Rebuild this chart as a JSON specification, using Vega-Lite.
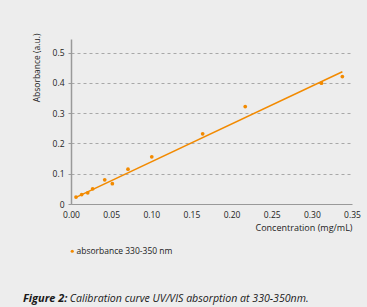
{
  "$schema": "https://vega.github.io/schema/vega-lite/v6.json",
  "width": 281,
  "height": 165,
  "autosize": {"type": "none"},
  "padding": {"left": 71, "top": 39, "right": 15, "bottom": 103},
  "background": "#ededed",
  "datasets": {
    "points": [
      {"conc": 0.0062, "abs": 0.023, "series": "absorbance 330-350 nm"},
      {"conc": 0.0133, "abs": 0.031, "series": "absorbance 330-350 nm"},
      {"conc": 0.0208, "abs": 0.037, "series": "absorbance 330-350 nm"},
      {"conc": 0.027, "abs": 0.05, "series": "absorbance 330-350 nm"},
      {"conc": 0.042, "abs": 0.08, "series": "absorbance 330-350 nm"},
      {"conc": 0.0515, "abs": 0.067, "series": "absorbance 330-350 nm"},
      {"conc": 0.071, "abs": 0.115, "series": "absorbance 330-350 nm"},
      {"conc": 0.1006, "abs": 0.156, "series": "absorbance 330-350 nm"},
      {"conc": 0.164, "abs": 0.232, "series": "absorbance 330-350 nm"},
      {"conc": 0.217, "abs": 0.322, "series": "absorbance 330-350 nm"},
      {"conc": 0.312, "abs": 0.399, "series": "absorbance 330-350 nm"},
      {"conc": 0.338, "abs": 0.421, "series": "absorbance 330-350 nm"}
    ],
    "fit": [
      {"conc": 0.0055, "abs": 0.021},
      {"conc": 0.338, "abs": 0.437}
    ]
  },
  "title": {
    "text": "Figure 2:",
    "subtitle": "\u200b\u00a0\u00a0\u00a0\u00a0\u00a0\u00a0\u00a0\u00a0\u00a0\u00a0\u00a0\u00a0\u00a0\u00a0\u00a0\u00a0\u00a0Calibration curve UV/VIS absorption at 330-350nm.",
    "orient": "bottom",
    "anchor": "start",
    "frame": "group",
    "dx": -48,
    "offset": 37,
    "font": "Open Sans",
    "fontSize": 11,
    "fontStyle": "italic",
    "fontWeight": "bold",
    "color": "#1a1a1a",
    "subtitleFont": "Open Sans",
    "subtitleFontSize": 10.6,
    "subtitleFontStyle": "italic",
    "subtitleFontWeight": "normal",
    "subtitleColor": "#1a1a1a",
    "subtitlePadding": -10
  },
  "config": {
    "view": {"stroke": null},
    "font": "Open Sans"
  },
  "encoding": {
    "x": {
      "field": "conc", "type": "quantitative",
      "scale": {"domain": [0, 0.35], "nice": false, "zero": false},
      "axis": {
        "values": [0, 0.05, 0.1, 0.15, 0.2, 0.25, 0.3, 0.35],
        "format": ".2f",
        "labelFlush": false,
        "labelOverlap": false,
        "title": "Concentration (mg/mL)",
        "titleAnchor": "end",
        "titleAlign": "right",
        "titleFont": "Open Sans",
        "titleFontSize": 9,
        "titleFontWeight": "normal",
        "titleColor": "#222222",
        "titlePadding": 5,
        "labelFont": "Open Sans",
        "labelFontSize": 8.5,
        "labelColor": "#222222",
        "labelPadding": 6,
        "ticks": false,
        "grid": false,
        "domainColor": "#999999",
        "domainWidth": 1
      }
    },
    "y": {
      "field": "abs", "type": "quantitative",
      "scale": {"domain": [0, 0.545], "nice": false},
      "axis": {
        "values": [0, 0.1, 0.2, 0.3, 0.4, 0.5],
        "labelExpr": "datum.value == 0 ? '0' : format(datum.value, '.1f')",
        "labelFlush": false,
        "labelOverlap": false,
        "title": "Absorbance (a.u.)",
        "titleAnchor": "end",
        "titleAlign": "right",
        "titleY": -6,
        "titleX": -30,
        "titleFont": "Open Sans",
        "titleFontSize": 8.5,
        "titleFontWeight": "normal",
        "titleColor": "#222222",
        "labelFont": "Open Sans",
        "labelFontSize": 8.5,
        "labelColor": "#222222",
        "labelPadding": 4,
        "tickSize": 3,
        "tickColor": "#999999",
        "grid": true,
        "gridColor": "#a8a8a8",
        "gridDash": [3, 3],
        "gridWidth": 1,
        "domainColor": "#999999",
        "domainWidth": 1.5
      }
    }
  },
  "layer": [
    {
      "data": {"name": "fit"},
      "mark": {"type": "line", "color": "#f28a00", "strokeWidth": 1.5}
    },
    {
      "data": {"name": "points"},
      "mark": {"type": "point", "filled": true, "shape": "circle", "size": 14, "opacity": 1},
      "encoding": {
        "color": {
          "field": "series", "type": "nominal",
          "scale": {"range": ["#f28a00"]},
          "legend": {
            "title": null,
            "orient": "none",
            "legendX": -3,
            "legendY": 208,
            "symbolSize": 10,
            "symbolType": "circle",
            "labelFont": "Open Sans",
            "labelFontSize": 8.5,
            "labelColor": "#222222",
            "labelOffset": 0,
            "padding": 0
          }
        }
      }
    }
  ]
}
